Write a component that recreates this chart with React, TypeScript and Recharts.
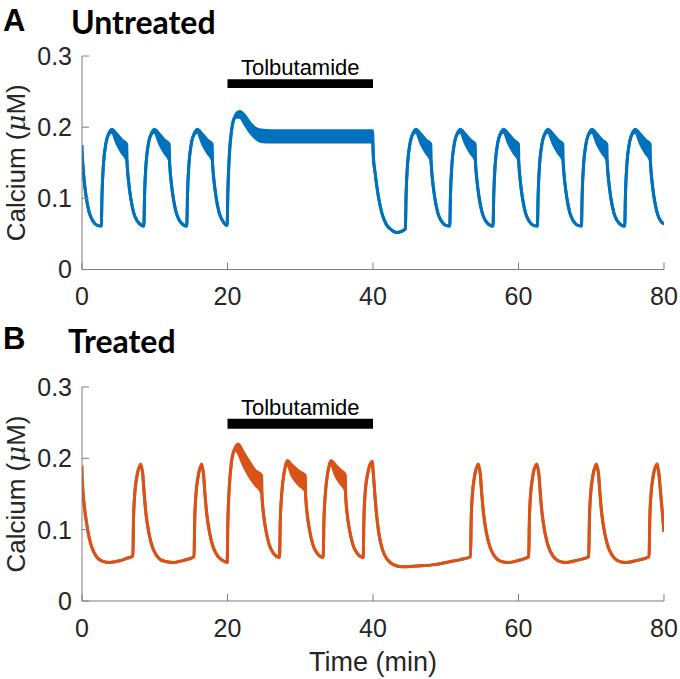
import React from 'react';
import { ComposedChart, Area, XAxis, YAxis, ReferenceArea, Label } from 'recharts';

// [time (min), upper, lower?] -- lower defaults to upper where the trace is a thin line
const untreatedTrace: [number, number, number?][] = [
  [0, 0.175, 0.16], [0.1, 0.15], [0.3, 0.125], [0.6, 0.1], [1.0, 0.08], [1.5, 0.068], [2.1, 0.062], [2.65, 0.061],
  [2.75, 0.105], [2.95, 0.148], [3.25, 0.175], [3.6, 0.189], [4.1, 0.197, 0.193], [4.8, 0.19, 0.177], [5.5, 0.182, 0.164], [6.15, 0.176, 0.154],
  [6.2, 0.148], [6.4, 0.124], [6.7, 0.1], [7.1, 0.08], [7.6, 0.068], [8.2, 0.062], [8.5, 0.061],
  [8.6, 0.105], [8.8, 0.148], [9.1, 0.175], [9.45, 0.189], [9.95, 0.197, 0.193], [10.65, 0.19, 0.177], [11.35, 0.182, 0.164], [12.0, 0.176, 0.154],
  [12.05, 0.148], [12.25, 0.124], [12.55, 0.1], [12.95, 0.08], [13.45, 0.068], [14.05, 0.062], [14.4, 0.061],
  [14.5, 0.105], [14.7, 0.148], [15.0, 0.175], [15.35, 0.189], [15.85, 0.197, 0.193], [16.55, 0.19, 0.177], [17.25, 0.182, 0.164], [17.9, 0.176, 0.154],
  [17.95, 0.148], [18.15, 0.124], [18.45, 0.1], [18.85, 0.08], [19.35, 0.068], [19.95, 0.062],
  [20.05, 0.11], [20.25, 0.16], [20.55, 0.195], [20.9, 0.212], [21.3, 0.22, 0.214], [21.7, 0.222, 0.214], [22.4, 0.216, 0.204],
  [23.1, 0.206, 0.193], [23.8, 0.199, 0.185], [24.6, 0.196, 0.18], [26, 0.195, 0.179], [30, 0.195, 0.179], [35, 0.195, 0.179], [39.95, 0.195, 0.179],
  [40.05, 0.158], [40.3, 0.135], [40.7, 0.105], [41.2, 0.08], [41.8, 0.064], [42.5, 0.056], [43.2, 0.052], [44.0, 0.054], [44.45, 0.057],
  [44.55, 0.105], [44.75, 0.148], [45.05, 0.175], [45.4, 0.189], [45.9, 0.197, 0.193], [46.6, 0.19, 0.177], [47.3, 0.182, 0.164], [47.95, 0.176, 0.154],
  [48.0, 0.148], [48.2, 0.124], [48.5, 0.1], [48.9, 0.08], [49.4, 0.068], [50.0, 0.062], [50.55, 0.061],
  [50.65, 0.105], [50.85, 0.148], [51.15, 0.175], [51.5, 0.189], [52.0, 0.197, 0.193], [52.7, 0.19, 0.177], [53.4, 0.182, 0.164], [54.05, 0.176, 0.154],
  [54.1, 0.148], [54.3, 0.124], [54.6, 0.1], [55.0, 0.08], [55.5, 0.068], [56.1, 0.062], [56.5, 0.061],
  [56.6, 0.105], [56.8, 0.148], [57.1, 0.175], [57.45, 0.189], [57.95, 0.197, 0.193], [58.65, 0.19, 0.177], [59.35, 0.182, 0.164], [60.0, 0.176, 0.154],
  [60.05, 0.148], [60.25, 0.124], [60.55, 0.1], [60.95, 0.08], [61.45, 0.068], [62.05, 0.062], [62.6, 0.061],
  [62.7, 0.105], [62.9, 0.148], [63.2, 0.175], [63.55, 0.189], [64.05, 0.197, 0.193], [64.75, 0.19, 0.177], [65.45, 0.182, 0.164], [66.1, 0.176, 0.154],
  [66.15, 0.148], [66.35, 0.124], [66.65, 0.1], [67.05, 0.08], [67.55, 0.068], [68.15, 0.062], [68.65, 0.061],
  [68.75, 0.105], [68.95, 0.148], [69.25, 0.175], [69.6, 0.189], [70.1, 0.197, 0.193], [70.8, 0.19, 0.177], [71.5, 0.182, 0.164], [72.15, 0.176, 0.154],
  [72.2, 0.148], [72.4, 0.124], [72.7, 0.1], [73.1, 0.08], [73.6, 0.068], [74.2, 0.062], [74.6, 0.061],
  [74.7, 0.105], [74.9, 0.148], [75.2, 0.175], [75.55, 0.189], [76.05, 0.197, 0.193], [76.75, 0.19, 0.177], [77.45, 0.182, 0.164], [78.1, 0.176, 0.154],
  [78.15, 0.148], [78.35, 0.124], [78.65, 0.1], [79.05, 0.08], [79.55, 0.068], [80.0, 0.064],
];

const treatedTrace: [number, number, number?][] = [
  [0, 0.19, 0.17], [0.1, 0.158], [0.35, 0.13], [0.65, 0.108], [1.0, 0.088], [1.4, 0.074], [2.0, 0.062], [2.8, 0.056],
  [3.8, 0.054], [5.0, 0.056], [6.2, 0.06], [7.0, 0.063],
  [7.08, 0.115], [7.25, 0.15], [7.5, 0.172], [7.8, 0.186], [8.1, 0.192, 0.188], [8.35, 0.178], [8.55, 0.15], [8.8, 0.122],
  [9.2, 0.095], [9.7, 0.075], [10.3, 0.063], [11.2, 0.056], [12.5, 0.054], [14.0, 0.057], [15.4, 0.062],
  [15.5, 0.115], [15.67, 0.15], [15.92, 0.172], [16.2, 0.186], [16.45, 0.192, 0.188], [16.7, 0.178], [16.9, 0.15], [17.15, 0.122],
  [17.55, 0.095], [18.05, 0.075], [18.65, 0.063], [19.3, 0.057], [19.95, 0.054],
  [20.05, 0.11], [20.25, 0.16], [20.55, 0.195], [20.95, 0.212], [21.45, 0.22, 0.208], [22.2, 0.208, 0.19], [23.0, 0.195, 0.175],
  [23.8, 0.183, 0.163], [24.7, 0.176, 0.152],
  [24.75, 0.145], [24.95, 0.122], [25.3, 0.098], [25.7, 0.08], [26.3, 0.067], [27.15, 0.061],
  [27.25, 0.11], [27.45, 0.15], [27.75, 0.178], [28.2, 0.197, 0.192], [28.9, 0.19, 0.175], [29.8, 0.182, 0.163], [30.7, 0.176, 0.154],
  [30.75, 0.146], [30.95, 0.122], [31.3, 0.098], [31.7, 0.08], [32.3, 0.067], [33.15, 0.061],
  [33.25, 0.11], [33.45, 0.15], [33.75, 0.178], [34.2, 0.197, 0.192], [34.9, 0.19, 0.175], [35.6, 0.183, 0.164], [36.2, 0.177, 0.155],
  [36.25, 0.146], [36.45, 0.122], [36.8, 0.098], [37.2, 0.08], [37.8, 0.067], [38.65, 0.061],
  [38.75, 0.115], [38.95, 0.155], [39.3, 0.18], [39.65, 0.193], [39.9, 0.196, 0.19], [40.05, 0.178], [40.25, 0.15], [40.5, 0.12],
  [40.8, 0.095], [41.3, 0.072], [42.0, 0.058], [42.8, 0.051], [44.0, 0.048], [46.0, 0.049], [48.5, 0.051], [50.5, 0.055],
  [52.0, 0.058], [53.4, 0.062],
  [53.5, 0.115], [53.67, 0.15], [53.92, 0.172], [54.2, 0.186], [54.5, 0.192, 0.188], [54.75, 0.178], [54.95, 0.15], [55.2, 0.122],
  [55.6, 0.095], [56.1, 0.075], [56.7, 0.063], [57.5, 0.056], [58.6, 0.054], [60.0, 0.057], [61.4, 0.062],
  [61.5, 0.115], [61.67, 0.15], [61.92, 0.172], [62.2, 0.186], [62.55, 0.192, 0.188], [62.8, 0.178], [63.0, 0.15], [63.25, 0.122],
  [63.65, 0.095], [64.15, 0.075], [64.75, 0.063], [65.55, 0.056], [66.6, 0.054], [68.0, 0.057], [69.65, 0.062],
  [69.75, 0.115], [69.92, 0.15], [70.17, 0.172], [70.45, 0.186], [70.75, 0.192, 0.188], [71.0, 0.178], [71.2, 0.15], [71.45, 0.122],
  [71.85, 0.095], [72.35, 0.075], [72.95, 0.063], [73.75, 0.056], [74.8, 0.054], [76.3, 0.057], [77.95, 0.062],
  [78.05, 0.115], [78.22, 0.15], [78.47, 0.172], [78.75, 0.186], [79.05, 0.192, 0.188], [79.3, 0.178], [79.55, 0.15], [80.0, 0.097],
];

const timeTicks = [0, 20, 40, 60, 80];
const calciumTicks = [0, 0.1, 0.2, 0.3];
const drugStart = 20;
const drugEnd = 40;

const FONT = '"Liberation Sans", Arial, Helvetica, sans-serif';
const AXIS_GREY = '#7d7d7d';
const tickStyle = { fill: '#262626', fontSize: 25, fontFamily: FONT };

function toRows(trace: [number, number, number?][]) {
  return trace.map(([t, hi, lo]) => ({ t, band: [lo ?? hi, hi] }));
}

function CalciumLabel(props: any) {
  const vb = props.viewBox || {};
  const cy = vb.y + vb.height / 2;
  return (
    <text x={25} y={cy} transform={`rotate(-90, 25, ${cy})`} textAnchor="middle"
      fontSize={26} fontFamily={FONT} fill="#262626">
      Calcium (<tspan fontStyle="italic" fontFamily='"DejaVu Serif", serif'>μ</tspan>M)
    </text>
  );
}

function TimeLabel(props: any) {
  const vb = props.viewBox || {};
  return (
    <text x={vb.x + vb.width / 2} y={vb.y + 70} textAnchor="middle"
      fontSize={27} fontFamily={FONT} fill="#262626">
      Time (min)
    </text>
  );
}

interface PanelProps {
  trace: [number, number, number?][];
  color: string;
  height: number;
  top: number;
  marginTop: number;
  marginBottom: number;
  bar: [number, number];
  showTime?: boolean;
}

function Panel({ trace, color, height, top, marginTop, marginBottom, bar, showTime }: PanelProps) {
  const rows = toRows(trace);
  return (
    <div style={{ position: 'absolute', left: 0, top }}>
      <ComposedChart width={680} height={height} data={rows}
        margin={{ top: marginTop, right: 16, left: 0, bottom: marginBottom }}>
        <XAxis dataKey="t" type="number" domain={[0, 80]} ticks={timeTicks} allowDataOverflow
          height={50} stroke={AXIS_GREY} tickSize={-7} tickMargin={25} tick={tickStyle}
          tickLine={{ stroke: AXIS_GREY }}>
          {showTime && <Label content={<TimeLabel />} />}
        </XAxis>
        <YAxis type="number" domain={[0, 0.3]} ticks={calciumTicks} allowDataOverflow
          width={82} stroke={AXIS_GREY} tickSize={-7} tickMargin={17} tick={tickStyle}
          tickLine={{ stroke: AXIS_GREY }}>
          <Label content={<CalciumLabel />} />
        </YAxis>
        <ReferenceArea x1={drugStart} x2={drugEnd} y1={bar[0]} y2={bar[1]} fill="#000" fillOpacity={1} stroke="none"
          label={{ value: 'Tolbutamide', position: 'top', offset: 4, fontSize: 22, fill: '#000', fontFamily: FONT }} />
        <Area type="monotone" dataKey="band" stroke={color} strokeWidth={3} fill={color} fillOpacity={1}
          dot={false} activeDot={false} isAnimationActive={false} />
      </ComposedChart>
    </div>
  );
}

export default function App() {
  return (
    <div style={{ position: 'relative', width: 680, height: 679, background: '#fff', overflow: 'hidden' }}>
      <style>{'body{margin:0}'}</style>
      <Panel trace={untreatedTrace} color="#0072BD" height={330} top={0}
        marginTop={56} marginBottom={10.5} bar={[0.255, 0.2675]} />
      <Panel trace={treatedTrace} color="#D95319" height={349} top={330}
        marginTop={57} marginBottom={28} bar={[0.2415, 0.2555]} showTime />
      <svg width={680} height={679} style={{ position: 'absolute', left: 0, top: 0, pointerEvents: 'none' }}>
        <text x={3} y={31} fontSize={31} fontWeight="bold" fontFamily={FONT} fill="#000">A</text>
        <text x={71} y={34} fontSize={32} fontWeight="bold" fontFamily="Lato, sans-serif" fill="#000">Untreated</text>
        <text x={3} y={349} fontSize={31} fontWeight="bold" fontFamily={FONT} fill="#000">B</text>
        <text x={68} y={353} fontSize={32} fontWeight="bold" fontFamily="Lato, sans-serif" fill="#000">Treated</text>
      </svg>
    </div>
  );
}
